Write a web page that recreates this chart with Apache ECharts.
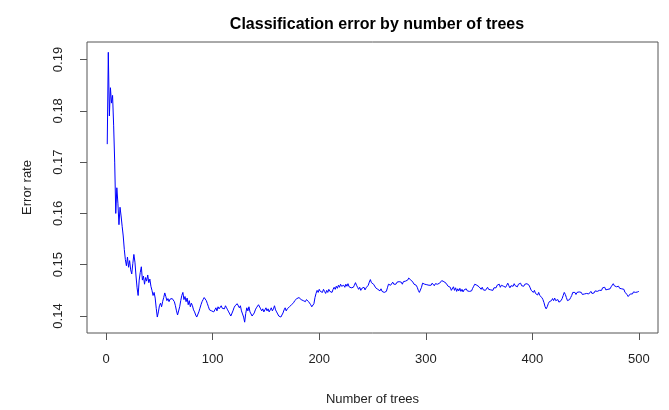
<html>
<head>
    <meta charset="utf-8">
    <title>Classification error by number of trees</title>
    <script src="https://cdn.jsdelivr.net/npm/echarts@6/dist/echarts.min.js"></script>
    <style>
        body { margin: 0; background: #fff; }
    </style>
</head>
<body>
<div id="main" style="width: 669px;height:410px;"></div>
<script type="text/javascript">
    // OOB error rate, one value per tree (1..500)
    var errRate = [
        0.1735, 0.1914, 0.1790, 0.1845, 0.1815, 0.1830, 0.1772, 0.1700, 0.1600, 0.1650,
        0.1620, 0.1578, 0.1612, 0.1595, 0.1575, 0.1556, 0.1530, 0.1510, 0.1498, 0.1515,
        0.1495, 0.1508, 0.1490, 0.1482, 0.1502, 0.1520, 0.1505, 0.1478, 0.1455, 0.1440,
        0.1470, 0.1485, 0.1496, 0.1470, 0.1478, 0.1462, 0.1475, 0.1468, 0.1480, 0.1465,
        0.1472, 0.1458, 0.1450, 0.1440, 0.1446, 0.1435, 0.1415, 0.1398, 0.1408, 0.1420,
        0.1425, 0.1418, 0.1428, 0.1436, 0.1445, 0.1438, 0.1430, 0.1434, 0.1428, 0.1433,
        0.1430, 0.1434, 0.1431, 0.1428, 0.1420, 0.1410, 0.1402, 0.1405, 0.1418, 0.1430,
        0.1440, 0.1446, 0.1432, 0.1438, 0.1428, 0.1435, 0.1422, 0.1430, 0.1418, 0.1425,
        0.1420, 0.1412, 0.1408, 0.1402, 0.1398, 0.1400, 0.1408, 0.1415, 0.1422, 0.1428,
        0.1432, 0.1436, 0.1438, 0.1430, 0.1424, 0.1418, 0.1412, 0.1415, 0.1410, 0.1413,
        0.1408, 0.1412, 0.1416, 0.1410, 0.1418, 0.1414, 0.1416, 0.1420, 0.1415, 0.1418,
        0.1414, 0.1420, 0.1416, 0.1412, 0.1408, 0.1404, 0.1400, 0.1402, 0.1410, 0.1416,
        0.1420, 0.1418, 0.1424, 0.1426, 0.1416, 0.1420, 0.1410, 0.1404, 0.1398, 0.1388,
        0.1405, 0.1416, 0.1410, 0.1418, 0.1408, 0.1404, 0.1400, 0.1398, 0.1406, 0.1412,
        0.1416, 0.1418, 0.1422, 0.1420, 0.1414, 0.1410, 0.1414, 0.1408, 0.1412, 0.1416,
        0.1410, 0.1414, 0.1408, 0.1412, 0.1416, 0.1410, 0.1414, 0.1420, 0.1412, 0.1408,
        0.1404, 0.1400, 0.1402, 0.1398, 0.1400, 0.1406, 0.1412, 0.1416, 0.1410, 0.1414,
        0.1412, 0.1418, 0.1416, 0.1422, 0.1420, 0.1426, 0.1430, 0.1428, 0.1434, 0.1432,
        0.1436, 0.1438, 0.1432, 0.1435, 0.1430, 0.1432, 0.1428, 0.1432, 0.1430, 0.1428,
        0.1426, 0.1422, 0.1418, 0.1416, 0.1424, 0.1436, 0.1444, 0.1450, 0.1446, 0.1452,
        0.1448, 0.1450, 0.1446, 0.1452, 0.1448, 0.1444, 0.1450, 0.1446, 0.1452, 0.1448,
        0.1450, 0.1446, 0.1452, 0.1456, 0.1452, 0.1458, 0.1454, 0.1460, 0.1456, 0.1462,
        0.1458, 0.1455, 0.1460, 0.1456, 0.1462, 0.1458, 0.1463, 0.1457, 0.1460, 0.1455,
        0.1458, 0.1456, 0.1460, 0.1465, 0.1460, 0.1456, 0.1452, 0.1456, 0.1450, 0.1454,
        0.1452, 0.1456, 0.1451, 0.1455, 0.1453, 0.1460, 0.1466, 0.1471, 0.1465, 0.1468,
        0.1462, 0.1460, 0.1455, 0.1458, 0.1452, 0.1455, 0.1449, 0.1453, 0.1448, 0.1451,
        0.1446, 0.1443, 0.1448, 0.1455, 0.1462, 0.1464, 0.1460, 0.1463, 0.1466, 0.1462,
        0.1465, 0.1462, 0.1466, 0.1463, 0.1467, 0.1464, 0.1466, 0.1462, 0.1467, 0.1465,
        0.1468, 0.1466, 0.1470, 0.1474, 0.1477, 0.1470, 0.1472, 0.1466, 0.1462, 0.1465,
        0.1460, 0.1456, 0.1450, 0.1446, 0.1448, 0.1456, 0.1464, 0.1467, 0.1462, 0.1465,
        0.1461, 0.1464, 0.1460, 0.1463, 0.1460, 0.1464, 0.1461, 0.1459, 0.1463, 0.1460,
        0.1462, 0.1460, 0.1464, 0.1466, 0.1469, 0.1471, 0.1467, 0.1469, 0.1464, 0.1462,
        0.1458, 0.1461, 0.1456, 0.1450, 0.1452, 0.1457, 0.1450, 0.1455, 0.1448, 0.1453,
        0.1449, 0.1454, 0.1448, 0.1452, 0.1447, 0.1451, 0.1448, 0.1453, 0.1449, 0.1452,
        0.1448, 0.1451, 0.1449, 0.1454, 0.1458, 0.1462, 0.1465, 0.1460, 0.1462, 0.1457,
        0.1455, 0.1452, 0.1456, 0.1451, 0.1454, 0.1450, 0.1453, 0.1456, 0.1452, 0.1455,
        0.1451, 0.1454, 0.1450, 0.1455, 0.1458, 0.1455, 0.1460, 0.1457, 0.1462, 0.1456,
        0.1460, 0.1463, 0.1458, 0.1461, 0.1456, 0.1460, 0.1464, 0.1459, 0.1455, 0.1459,
        0.1462, 0.1458, 0.1463, 0.1459, 0.1461, 0.1457, 0.1462, 0.1460, 0.1464, 0.1459,
        0.1461, 0.1458, 0.1462, 0.1460, 0.1463, 0.1466, 0.1460, 0.1455, 0.1450, 0.1452,
        0.1446, 0.1450, 0.1444, 0.1447, 0.1441, 0.1446, 0.1440, 0.1443, 0.1436, 0.1432,
        0.1426, 0.1418, 0.1414, 0.1418, 0.1424, 0.1428, 0.1425, 0.1430, 0.1434, 0.1430,
        0.1435, 0.1430, 0.1428, 0.1432, 0.1427, 0.1426, 0.1430, 0.1434, 0.1440, 0.1446,
        0.1442, 0.1436, 0.1430, 0.1428, 0.1432, 0.1436, 0.1440, 0.1446, 0.1443, 0.1446,
        0.1442, 0.1446, 0.1443, 0.1447, 0.1444, 0.1446, 0.1442, 0.1445, 0.1443, 0.1446,
        0.1444, 0.1447, 0.1443, 0.1445, 0.1448, 0.1444, 0.1447, 0.1445, 0.1449, 0.1446,
        0.1448, 0.1446, 0.1450, 0.1453, 0.1450, 0.1455, 0.1452, 0.1456, 0.1451, 0.1454,
        0.1452, 0.1455, 0.1453, 0.1457, 0.1460, 0.1463, 0.1459, 0.1461, 0.1457, 0.1456,
        0.1458, 0.1454, 0.1457, 0.1453, 0.1450, 0.1452, 0.1446, 0.1448, 0.1442, 0.1438,
        0.1437, 0.1443, 0.1446, 0.1443, 0.1447, 0.1444, 0.1446, 0.1445, 0.1447, 0.1448
    ];
    var xTicks = [0, 100, 200, 300, 400, 500];
    var yTicks = [0.14, 0.15, 0.16, 0.17, 0.18, 0.19];

    var points = errRate.map(function (v, i) { return [i + 1, v]; });

    var myChart = echarts.init(document.getElementById('main'));
    var font = 'Liberation Sans, Arial, sans-serif';

    myChart.setOption({
        animation: false,
        backgroundColor: '#fff',
        title: {
            text: 'Classification error by number of trees',
            left: 372,
            textAlign: 'center',
            top: 12,
            textStyle: { fontFamily: font, fontSize: 16, fontWeight: 'bold', color: '#000' }
        },
        grid: {
            left: 87, right: 11, top: 42, bottom: 77,
            show: true, borderColor: '#555', borderWidth: 1,
            outerBoundsMode: 'none'
        },
        xAxis: {
            type: 'value',
            min: -18, max: 518,
            name: 'Number of trees',
            nameLocation: 'middle',
            nameGap: 60,
            nameTextStyle: { fontFamily: font, fontSize: 13, color: '#222' },
            axisLine: { show: false, onZero: false },
            splitLine: { show: false },
            axisTick: { show: true, length: 7, customValues: xTicks, lineStyle: { color: '#555' } },
            axisLabel: { customValues: xTicks, margin: 20, fontFamily: font, fontSize: 13, color: '#222' }
        },
        yAxis: {
            type: 'value',
            min: 0.13669, max: 0.19341,
            name: 'Error rate',
            nameLocation: 'middle',
            nameGap: 53,
            nameRotate: 90,
            nameTextStyle: { fontFamily: font, fontSize: 13, color: '#222' },
            axisLine: { show: false, onZero: false },
            splitLine: { show: false },
            axisTick: { show: true, length: 7, customValues: yTicks, lineStyle: { color: '#555' } },
            axisLabel: {
                customValues: yTicks, rotate: 90, margin: 22,
                fontFamily: font, fontSize: 13, color: '#222',
                formatter: function (v) { return v.toFixed(2); }
            }
        },
        series: [{
            type: 'line',
            data: points,
            showSymbol: false,
            lineStyle: { color: '#0000ff', width: 1 }
        }]
    });
</script>
</body>
</html>
